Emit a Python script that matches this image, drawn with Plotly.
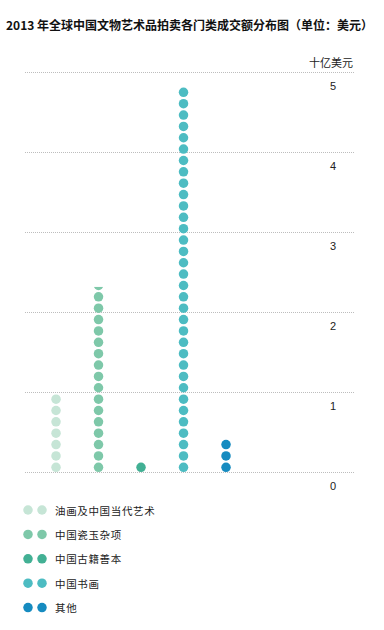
import math
import plotly.graph_objects as go

# ---- data (十亿美元) ----
categories = ['油画及中国当代艺术', '中国瓷玉杂项', '中国古籍善本', '中国书画', '其他']
values = [0.99, 2.32, 0.14, 4.82, 0.43]
colors = ['#c6e5d6', '#7ec8a9', '#42b094', '#4dbcc2', '#168bc0']
tick_values = [0, 1, 2, 3, 4, 5]
tick_labels = ['0', '1', '2', '3', '4', '5']
DOT_UNIT = 0.1417   # value represented by one dot
title_text = '2013 年全球中国文物艺术品拍卖各门类成交额分布图（单位：美元）'
unit_text = '十亿美元'

W, H = 384, 630
FONT = 'Noto Sans CJK SC, Noto Sans, sans-serif'
DOT_PX = 9.5

# main plot area in pixels
X0, X1 = 25, 355
YT, YB = 68, 477
y_range = [-0.05, 5.05]
px_per_unit = (YB - YT) / (y_range[1] - y_range[0])
r_units = (DOT_PX / 2) / px_per_unit

fig = go.Figure()
shapes = []
for i, (cat, v, c) in enumerate(zip(categories, values, colors)):
    n = math.ceil(v / DOT_UNIT - 0.1)
    ys = [(k + 0.5) * DOT_UNIT for k in range(n)]
    fig.add_trace(go.Scatter(
        x=[cat] * n, y=ys, mode='markers',
        marker=dict(size=DOT_PX, color=c, line=dict(width=0)),
        showlegend=False, hoverinfo='skip', cliponaxis=False,
        xaxis='x', yaxis='y'))
    top = (n - 0.5) * DOT_UNIT + r_units
    if top > v + 1e-9:
        shapes.append(dict(type='rect', xref='x', yref='y',
                           x0=i - 0.35, x1=i + 0.35, y0=v, y1=v + DOT_UNIT,
                           fillcolor='white', line=dict(width=0), layer='above'))

# legend (two dots + label per category), on a pixel-scaled axis below the plot
LEG_TOP = 495
LEG_Y0, LEG_DY = 510, 24.4
annotations = []
for i, (cat, c) in enumerate(zip(categories, colors)):
    y = LEG_Y0 + LEG_DY * i
    fig.add_trace(go.Scatter(
        x=[28, 42], y=[y, y], mode='markers',
        marker=dict(size=DOT_PX, color=c, line=dict(width=0)),
        showlegend=False, hoverinfo='skip', cliponaxis=False,
        xaxis='x2', yaxis='y2'))
    annotations.append(dict(
        x=53, y=y, xref='x2', yref='y2', xanchor='left', yanchor='middle',
        text='\u200a'.join(cat), showarrow=False,
        font=dict(family=FONT, size=10.5, color='#222')))

# tick labels below gridlines
for tv, tl in zip(tick_values, tick_labels):
    annotations.append(dict(
        x=333 / W, y=tv, xref='paper', yref='y', xanchor='center', yanchor='middle',
        yshift=-13.5, text=tl, showarrow=False,
        font=dict(family='Liberation Sans, Arial, sans-serif', size=11, color='#222')))

annotations.append(dict(
    x=355 / W, y=1 - 62 / H, xref='paper', yref='paper', xanchor='right', yanchor='middle',
    text=unit_text, showarrow=False, font=dict(family=FONT, size=11, color='#222')))

annotations.append(dict(
    x=4 / W, y=1 - 25 / H, xref='paper', yref='paper', xanchor='left', yanchor='middle',
    text='<b>' + title_text + '</b>', showarrow=False,
    font=dict(family=FONT, size=12, color='#111')))

fig.update_layout(
    width=W, height=H, autosize=False,
    margin=dict(l=0, r=0, t=0, b=0),
    paper_bgcolor='white', plot_bgcolor='rgba(0,0,0,0)',
    showlegend=False,
    xaxis=dict(domain=[X0 / W, X1 / W], range=[-0.73, 7.035], type='category',
               categoryarray=categories, categoryorder='array',
               showgrid=False, zeroline=False, showticklabels=False, showline=False,
               fixedrange=True),
    yaxis=dict(domain=[1 - YB / H, 1 - YT / H], range=y_range,
               tickvals=tick_values, showticklabels=False,
               showgrid=True, gridcolor='#bdbdbd', griddash='1px,1px', gridwidth=1,
               zeroline=False, showline=False, fixedrange=True),
    xaxis2=dict(domain=[0, 1], range=[0, W], visible=False, anchor='y2', fixedrange=True),
    yaxis2=dict(domain=[0, 1 - LEG_TOP / H], range=[H, LEG_TOP], visible=False,
                anchor='x2', fixedrange=True),
    shapes=shapes,
    annotations=annotations,
)

fig.write_html('out.html', config={'displayModeBar': False},
               post_script="document.body.style.margin='0';")
